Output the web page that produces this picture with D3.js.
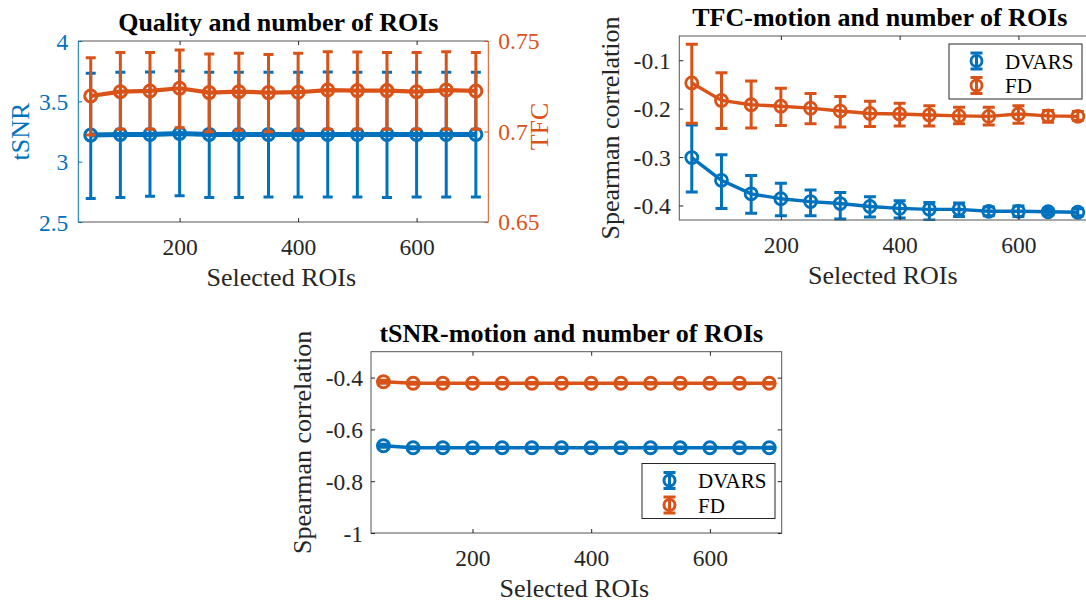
<!DOCTYPE html>
<html>
<head>
<meta charset="utf-8">
<script src="https://cdn.jsdelivr.net/npm/d3@7"></script>
<style>
  body { margin: 0; background: #fff; }
  svg { display: block; }
  text { font-family: "Liberation Serif", "Times New Roman", serif; }
</style>
</head>
<body>
<svg id="fig" width="1086" height="602"></svg>
<script>
// ---- data ----
const rois = [50, 100, 150, 200, 250, 300, 350, 400, 450, 500, 550, 600, 650, 700]
const xTicks = [200, 400, 600]

// panel 1: quality
const tsnrMean  = [3.220, 3.226, 3.226, 3.234, 3.226, 3.226, 3.226, 3.226, 3.226, 3.226, 3.226, 3.226, 3.226, 3.226]
const tsnrUpper = [3.732, 3.740, 3.743, 3.751, 3.740, 3.740, 3.740, 3.740, 3.743, 3.740, 3.740, 3.740, 3.740, 3.740]
const tsnrLower = [2.694, 2.703, 2.714, 2.717, 2.703, 2.703, 2.708, 2.708, 2.708, 2.708, 2.703, 2.708, 2.708, 2.708]
const tfcMean   = [0.7196, 0.7220, 0.7224, 0.7239, 0.7215, 0.7220, 0.7215, 0.7217, 0.7229, 0.7226, 0.7226, 0.7220, 0.7229, 0.7224]
const tfcUpper  = [0.7408, 0.7436, 0.7436, 0.7450, 0.7428, 0.7432, 0.7426, 0.7432, 0.7441, 0.7439, 0.7437, 0.7436, 0.7441, 0.7436]
const tfcLower  = [0.6981, 0.7012, 0.7012, 0.7021, 0.6999, 0.7007, 0.6999, 0.7004, 0.7012, 0.7012, 0.7012, 0.7012, 0.7012, 0.7012]
const tsnrTicks = [2.5, 3, 3.5, 4]
const tfcTicks  = [0.65, 0.7, 0.75]

// panel 2: TFC-motion
const tfcDvarsMean  = [-0.301, -0.348, -0.376, -0.386, -0.392, -0.396, -0.402, -0.406, -0.408, -0.408, -0.412, -0.412, -0.413, -0.414]
const tfcDvarsUpper = [-0.234, -0.295, -0.338, -0.354, -0.368, -0.373, -0.382, -0.390, -0.394, -0.395, -0.403, -0.401, -0.406, -0.407]
const tfcDvarsLower = [-0.372, -0.406, -0.416, -0.421, -0.421, -0.428, -0.424, -0.426, -0.430, -0.423, -0.421, -0.423, -0.419, -0.421]
const tfcFdMean  = [-0.147, -0.183, -0.192, -0.195, -0.199, -0.205, -0.210, -0.211, -0.213, -0.215, -0.216, -0.211, -0.215, -0.216]
const tfcFdUpper = [-0.067, -0.126, -0.143, -0.158, -0.169, -0.175, -0.185, -0.189, -0.194, -0.197, -0.197, -0.194, -0.204, -0.206]
const tfcFdLower = [-0.230, -0.241, -0.240, -0.235, -0.231, -0.238, -0.237, -0.236, -0.236, -0.231, -0.234, -0.230, -0.228, -0.224]
const tfcMotionTicks = [-0.4, -0.3, -0.2, -0.1]

// panel 3: tSNR-motion
const snrDvarsMean  = [-0.663, -0.671, -0.671, -0.671, -0.671, -0.671, -0.671, -0.671, -0.671, -0.671, -0.671, -0.671, -0.671, -0.671]
const snrDvarsUpper = [-0.657, -0.667, -0.667, -0.668, -0.668, -0.668, -0.668, -0.668, -0.668, -0.668, -0.668, -0.668, -0.668, -0.668]
const snrDvarsLower = [-0.669, -0.675, -0.675, -0.674, -0.674, -0.674, -0.674, -0.674, -0.674, -0.674, -0.674, -0.674, -0.674, -0.674]
const snrFdMean  = [-0.416, -0.422, -0.422, -0.422, -0.422, -0.422, -0.422, -0.422, -0.422, -0.422, -0.422, -0.422, -0.422, -0.422]
const snrFdUpper = [-0.410, -0.418, -0.418, -0.419, -0.419, -0.419, -0.419, -0.419, -0.419, -0.419, -0.419, -0.419, -0.419, -0.419]
const snrFdLower = [-0.422, -0.426, -0.426, -0.425, -0.425, -0.425, -0.425, -0.425, -0.425, -0.425, -0.425, -0.425, -0.425, -0.425]
const snrMotionTicks = [-1, -0.8, -0.6, -0.4]

const legendNames = ["DVARS", "FD"]

// ---- styling ----
const BLUE = "#0072BD"
const ORANGE = "#D95319"
const AXIS = "#262626"
const BOX = "#555555"
const SERIF = '"Liberation Serif", "Times New Roman", serif'
const tickFont = 23.5
const labelFont = 26
const legendFont = 21
const xDomain = [29, 721]

const svg = d3.select("#fig")
const defs = svg.append("defs")

// draws one errorbar series (bars + caps, line, circle markers)
function series(g, x, y, mean, upper, lower, color, st) {
  const half = st.cap / 2
  g.append("path")
      .attr("fill", "none")
      .attr("stroke", color)
      .attr("stroke-width", st.bar)
      .attr("d", rois.map((d, i) => {
        const cx = x(d), yu = y(upper[i]), yl = y(lower[i])
        return `M${cx},${yu}V${yl}M${cx - half},${yu}H${cx + half}M${cx - half},${yl}H${cx + half}`
      }).join(""))
  g.append("path")
      .attr("fill", "none")
      .attr("stroke", color)
      .attr("stroke-width", st.line)
      .attr("stroke-linejoin", "round")
      .attr("d", d3.line().x(d => x(d)).y((d, i) => y(mean[i]))(rois))
  g.selectAll(null)
    .data(rois)
    .enter().append("circle")
      .attr("cx", d => x(d))
      .attr("cy", (d, i) => y(mean[i]))
      .attr("r", st.r)
      .attr("fill", "none")
      .attr("stroke", color)
      .attr("stroke-width", st.mark)
}

function frame(id, left, top, width, height) {
  const g = svg.append("g")
      .attr("transform", `translate(${left},${top})`)
      .attr("font-family", SERIF)
  defs.append("clipPath").attr("id", id)
    .append("rect").attr("x", -2).attr("y", -1).attr("width", width + 4).attr("height", height + 2)
  const x = d3.scaleLinear().domain(xDomain).range([0, width])
  return { g, x, width, height }
}

function styleTicks(sel, color) {
  sel.attr("font-family", SERIF)
  sel.selectAll("text")
      .attr("fill", color)
      .style("font-family", SERIF)
      .style("font-size", tickFont + "px")
}

function xAxes(p) {
  const bottom = p.g.append("g")
      .attr("transform", `translate(0,${p.height})`)
      .call(d3.axisBottom(p.x).tickValues(xTicks).tickSize(-4).tickSizeOuter(0))
  bottom.select(".domain").remove()
  bottom.selectAll("line").attr("stroke", AXIS)
  bottom.selectAll("text").attr("y", 33).attr("dy", null)
  styleTicks(bottom, AXIS)
  const topAx = p.g.append("g")
      .call(d3.axisTop(p.x).tickValues(xTicks).tickSize(-4).tickSizeOuter(0).tickFormat(""))
  topAx.select(".domain").remove()
  topAx.selectAll("line").attr("stroke", AXIS)
  p.g.append("text")
      .attr("x", p.width / 2 - 2)
      .attr("y", p.height + 64)
      .attr("text-anchor", "middle")
      .attr("fill", AXIS)
      .style("font-size", labelFont + "px")
      .text("Selected ROIs")
}

function title(p, txt) {
  p.g.append("text")
      .attr("x", p.width / 2 - 5)
      .attr("y", -10)
      .attr("text-anchor", "middle")
      .attr("fill", "#000")
      .style("font-size", labelFont + "px")
      .style("font-weight", "bold")
      .text(txt)
}

function yAxisLeft(p, y, ticks, color, labelGap) {
  const ax = p.g.append("g")
      .call(d3.axisLeft(y).tickValues(ticks).tickSize(-4).tickSizeOuter(0).tickFormat(d => String(d)))
  ax.select(".domain").remove()
  ax.selectAll("line").attr("stroke", color)
  ax.selectAll("text").attr("x", -labelGap).attr("dy", "0.35em")
  styleTicks(ax, color)
}

function yAxisRightTicks(p, y, ticks, color) {
  const ax = p.g.append("g")
      .attr("transform", `translate(${p.width},0)`)
      .call(d3.axisRight(y).tickValues(ticks).tickSize(-4).tickSizeOuter(0).tickFormat(""))
  ax.select(".domain").remove()
  ax.selectAll("line").attr("stroke", color)
}

function legend(left, top, colors, st) {
  const g = svg.append("g").attr("transform", `translate(${left},${top})`)
  g.append("rect")
      .attr("width", 133).attr("height", 55)
      .attr("fill", "#fff")
      .attr("stroke", AXIS).attr("stroke-width", 1)
  legendNames.forEach((name, i) => {
    const cy = 17 + i * 24.5
    const cx = 27.5
    g.append("path")
        .attr("fill", "none").attr("stroke", colors[i]).attr("stroke-width", st.bar)
        .attr("d", `M${cx},${cy - 8}V${cy + 8}M${cx - 6},${cy - 8}H${cx + 6}M${cx - 6},${cy + 8}H${cx + 6}`)
    g.append("circle")
        .attr("cx", cx).attr("cy", cy).attr("r", 5.5)
        .attr("fill", "none").attr("stroke", colors[i]).attr("stroke-width", st.mark)
    g.append("text")
        .attr("x", 56).attr("y", cy + 7.5)
        .attr("fill", "#000")
        .style("font-size", legendFont + "px")
        .text(name)
  })
}

// ---- panel 1: Quality and number of ROIs ----
{
  const p = frame("clipA", 78.3, 41, 410, 181)
  const yL = d3.scaleLinear().domain([2.5, 4]).range([p.height, 0])
  const yR = d3.scaleLinear().domain([0.65, 0.75]).range([p.height, 0])

  const plot = p.g.append("g").attr("clip-path", "url(#clipA)")
  series(plot, p.x, yL, tsnrMean, tsnrUpper, tsnrLower, BLUE, { cap: 10, bar: 3, line: 5, r: 6, mark: 3 })
  series(plot, p.x, yR, tfcMean, tfcUpper, tfcLower, ORANGE, { cap: 10, bar: 3, line: 4.2, r: 6, mark: 3 })

  p.g.append("line").attr("x1", 0).attr("x2", p.width).attr("y1", 0).attr("y2", 0).attr("stroke", BOX)
  p.g.append("line").attr("x1", 0).attr("x2", p.width).attr("y1", p.height).attr("y2", p.height).attr("stroke", BOX)
  p.g.append("line").attr("x1", 0).attr("x2", 0).attr("y1", 0).attr("y2", p.height).attr("stroke", BLUE)
  p.g.append("line").attr("x1", p.width).attr("x2", p.width).attr("y1", 0).attr("y2", p.height).attr("stroke", ORANGE)

  xAxes(p)
  yAxisLeft(p, yL, tsnrTicks, BLUE, 10)
  yAxisRightTicks(p, yR, tfcTicks, ORANGE)
  p.g.append("g")
      .attr("transform", `translate(${p.width},0)`)
    .selectAll("text")
    .data(tfcTicks)
    .enter().append("text")
      .attr("x", 10)
      .attr("y", d => yR(d))
      .attr("dy", "0.35em")
      .attr("fill", ORANGE)
      .style("font-size", tickFont + "px")
      .text(d => String(d))

  p.g.append("text")
      .attr("transform", `translate(-49,${p.height / 2}) rotate(-90)`)
      .attr("text-anchor", "middle")
      .attr("fill", BLUE)
      .style("font-size", labelFont + "px")
      .text("tSNR")
  p.g.append("text")
      .attr("transform", `translate(${p.width + 60},${p.height / 2 - 5}) rotate(-90)`)
      .attr("text-anchor", "middle")
      .attr("fill", ORANGE)
      .style("font-size", labelFont + "px")
      .text("TFC")
  title(p, "Quality and number of ROIs")
}

// ---- panel 2: TFC-motion and number of ROIs ----
{
  const p = frame("clipB", 679.3, 36, 411, 184)
  const y = d3.scaleLinear().domain([-0.43, -0.05]).range([p.height, 0])
  const plot = p.g.append("g").attr("clip-path", "url(#clipB)")
  const st = { cap: 12, bar: 3, line: 3.4, r: 6, mark: 2.8 }
  series(plot, p.x, y, tfcDvarsMean, tfcDvarsUpper, tfcDvarsLower, BLUE, st)
  series(plot, p.x, y, tfcFdMean, tfcFdUpper, tfcFdLower, ORANGE, st)

  p.g.append("rect").attr("width", p.width).attr("height", p.height)
      .attr("fill", "none").attr("stroke", BOX)
  xAxes(p)
  yAxisLeft(p, y, tfcMotionTicks, AXIS, 8.5)
  yAxisRightTicks(p, y, tfcMotionTicks, AXIS)
  p.g.append("text")
      .attr("transform", `translate(-60,${p.height / 2}) rotate(-90)`)
      .attr("text-anchor", "middle")
      .attr("fill", AXIS)
      .style("font-size", labelFont + "px")
      .text("Spearman correlation")
  title(p, "TFC-motion and number of ROIs")
  legend(949, 44, [BLUE, ORANGE], st)
}

// ---- panel 3: tSNR-motion and number of ROIs ----
{
  const p = frame("clipC", 371, 351.7, 410.7, 181.3)
  const y = d3.scaleLinear().domain([-1, -0.3]).range([p.height, 0])
  const plot = p.g.append("g").attr("clip-path", "url(#clipC)")
  const st = { cap: 12, bar: 3, line: 3.6, r: 6, mark: 3 }
  series(plot, p.x, y, snrDvarsMean, snrDvarsUpper, snrDvarsLower, BLUE, st)
  series(plot, p.x, y, snrFdMean, snrFdUpper, snrFdLower, ORANGE, st)

  p.g.append("rect").attr("width", p.width).attr("height", p.height)
      .attr("fill", "none").attr("stroke", BOX)
  xAxes(p)
  yAxisLeft(p, y, snrMotionTicks, AXIS, 8)
  yAxisRightTicks(p, y, snrMotionTicks, AXIS)
  p.g.append("text")
      .attr("transform", `translate(-60,${p.height / 2}) rotate(-90)`)
      .attr("text-anchor", "middle")
      .attr("fill", AXIS)
      .style("font-size", labelFont + "px")
      .text("Spearman correlation")
  title(p, "tSNR-motion and number of ROIs")
  legend(642, 463.5, [BLUE, ORANGE], st)
}
</script>
</body>
</html>
